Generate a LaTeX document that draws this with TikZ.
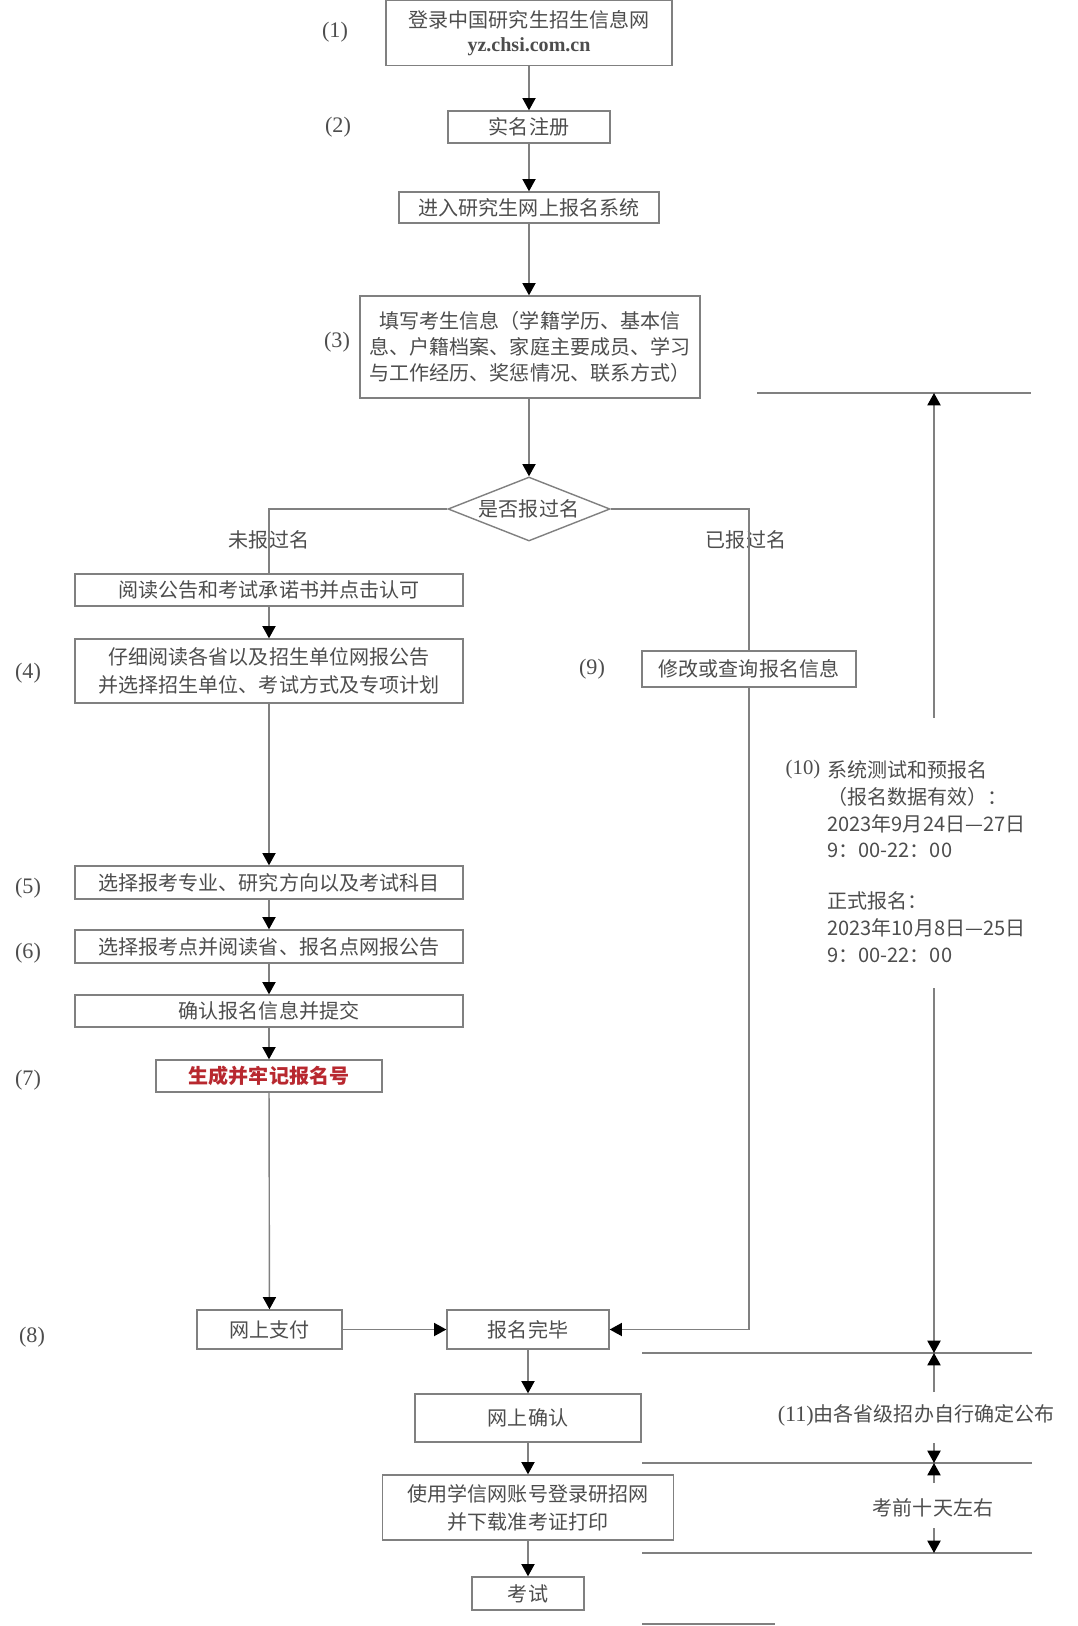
\documentclass[tikz,border=0pt]{standalone}
\usepackage{fontspec}
\setmainfont{Liberation Serif}
\newfontfamily\cjk{Noto Sans CJK SC}
\usetikzlibrary{arrows.meta,shapes.geometric}
\definecolor{rim}{HTML}{808080}
\definecolor{ink}{HTML}{4D4D4D}
\definecolor{alert}{HTML}{B8282F}

\begin{document}
\begin{tikzpicture}[x=0.02cm,y=-0.02cm,
  box/.style={draw=rim,line width=0.8pt,inner sep=0pt,align=center,text=ink,font=\cjk\fontsize{11.4}{15}\selectfont},
  note/.style={text=ink,inner sep=0pt,font=\cjk\fontsize{11.4}{15.3}\selectfont},
  numlbl/.style={text=ink,inner sep=0pt,font=\fontsize{12.6}{14}\selectfont},
  flow/.style={draw=rim,line width=0.8pt,-{Triangle[length=7pt,width=7.5pt,color=black]}},
  rule/.style={draw=rim,line width=0.8pt}]

  \fill[white] (0,0) rectangle (1078,1626);
  \useasboundingbox (0,0) rectangle (1078,1626);

  % main column
  \node[box,minimum width=5.72cm,minimum height=1.3cm] (login) at (529,33) {登录中国研究生招生信息网\\[-1.5pt]{\rmfamily\bfseries yz.chsi.com.cn}};
  \node[box,minimum width=3.24cm,minimum height=0.64cm] (signup) at (529,127) {实名注册};
  \node[box,minimum width=5.2cm,minimum height=0.62cm] (portal) at (529,207.5) {进入研究生网上报名系统};
  \node[box,minimum width=6.8cm,minimum height=2.04cm] (info) at (530,347) {填写考生信息（学籍学历、基本信\\息、户籍档案、家庭主要成员、学习\\与工作经历、奖惩情况、联系方式）};
  \node[box,diamond,aspect=2.5,minimum width=3.24cm,minimum height=1.28cm] (asked) at (529,509) {是否报过名};

  % left branch
  \node[box,minimum width=7.76cm,minimum height=0.64cm] (notice) at (269,590) {阅读公告和考试承诺书并点击认可};
  \node[box,minimum width=7.76cm,minimum height=1.28cm] (unit) at (269,671) {仔细阅读各省以及招生单位网报公告\\[1pt]并选择招生单位、考试方式及专项计划};
  \node[box,minimum width=7.76cm,minimum height=0.66cm] (major) at (269,882.5) {选择报考专业、研究方向以及考试科目};
  \node[box,minimum width=7.76cm,minimum height=0.66cm] (site) at (269,946.5) {选择报考点并阅读省、报名点网报公告};
  \node[box,minimum width=7.76cm,minimum height=0.64cm] (submit) at (269,1011) {确认报名信息并提交};
  \node[box,minimum width=4.52cm,minimum height=0.64cm,text=alert,font=\cjk\bfseries\fontsize{11.4}{15}\selectfont] (number) at (269,1076) {生成并牢记报名号};
  \node[box,minimum width=2.9cm,minimum height=0.78cm] (pay) at (269.5,1329.5) {网上支付};

  % right branch
  \node[box,minimum width=4.28cm,minimum height=0.72cm] (edit) at (749,669) {修改或查询报名信息};

  % bottom column
  \node[box,minimum width=3.24cm,minimum height=0.78cm] (done) at (528,1329.5) {报名完毕};
  \node[box,minimum width=4.52cm,minimum height=0.96cm] (confirm) at (528,1418) {网上确认};
  \node[box,minimum width=5.82cm,minimum height=1.3cm] (ticket) at (528,1507.5) {使用学信网账号登录研招网\\[1pt]并下载准考证打印};
  \node[box,minimum width=2.24cm,minimum height=0.66cm] (exam) at (528,1593.5) {考试};

  % branch labels
  \node[note] (never) at (269,540) {未报过名};
  \node[note] (before) at (746,540) {已报过名};

  % step numbers
  \node[numlbl] (n1) at (335,32) {(1)};
  \node[numlbl] (n2) at (338,127) {(2)};
  \node[numlbl] (n3) at (337,342) {(3)};
  \node[numlbl] (n4) at (28,673) {(4)};
  \node[numlbl] (n9) at (592,669) {(9)};
  \node[numlbl] (n5) at (28,888) {(5)};
  \node[numlbl] (n6) at (28,953) {(6)};
  \node[numlbl] (n7) at (28,1080) {(7)};
  \node[numlbl] (n8) at (32,1337) {(8)};

  % connectors
  \draw[flow] (login) -- (signup);
  \draw[flow] (signup) -- (portal);
  \draw[flow] (portal) -- (info.north -| portal);
  \draw[flow] (info.south -| asked) -- (asked);
  \draw[rule] (asked.west) -| (notice.north);
  \draw[rule] (asked.east) -| (edit.north);
  \draw[flow] (notice) -- (unit);
  \draw[flow] (unit) -- (major);
  \draw[flow] (major) -- (site);
  \draw[flow] (site) -- (submit);
  \draw[flow] (submit) -- (number);
  \draw[flow] (number) -- (pay);
  \draw[flow] (pay) -- (done);
  \draw[flow] (edit.south) |- (done.east);
  \draw[flow] (done) -- (confirm);
  \draw[flow] (confirm) -- (ticket);
  \draw[flow] (ticket) -- (exam);

  % timeline on the right
  \coordinate (t0w) at (757,393);
  \coordinate (t0e) at (1031,393);
  \draw[rule] (t0w) -- (t0e);
  \coordinate (upfoot) at (934,718);
  \draw[flow] (upfoot) -- (upfoot |- t0w);

  \node[numlbl,font=\fontsize{11.8}{14}\selectfont] (n10) at (803,770) {(10)};
  \node[note,align=left,anchor=north west] (dates) at (827,760) {系统测试和预报名\\（报名数据有效）：\\2023年9月24日—27日\\9：00-22：00\\[0.48cm]正式报名：\\2023年10月8日—25日\\9：00-22：00};

  \coordinate (downtop) at (934,988);
  \coordinate (t1w) at (642,1353);
  \coordinate (t1e) at (1032,1353);
  \draw[rule] (t1w) -- (t1e);
  \draw[flow] (downtop) -- (downtop |- t1w);

  \node[note] (prov) at (916,1415) {{\rmfamily\fontsize{12.6}{14}\selectfont (11)}由各省级招办自行确定公布};
  \coordinate (p1) at (934,1392);
  \coordinate (p2) at (934,1443);
  \coordinate (t2w) at (642,1463);
  \coordinate (t2e) at (1032,1463);
  \draw[rule] (t2w) -- (t2e);
  \draw[flow] (p1) -- (p1 |- t1w);
  \draw[flow] (p2) -- (p2 |- t2w);

  \node[note] (tenday) at (933,1508) {考前十天左右};
  \coordinate (q1) at (934,1483);
  \coordinate (q2) at (934,1528);
  \coordinate (t3w) at (642,1553);
  \coordinate (t3e) at (1032,1553);
  \draw[rule] (t3w) -- (t3e);
  \draw[flow] (q1) -- (q1 |- t2w);
  \draw[flow] (q2) -- (q2 |- t3w);

  \coordinate (t4w) at (642,1624);
  \coordinate (t4e) at (775,1624);
  \draw[rule] (t4w) -- (t4e);
\end{tikzpicture}
\end{document}
